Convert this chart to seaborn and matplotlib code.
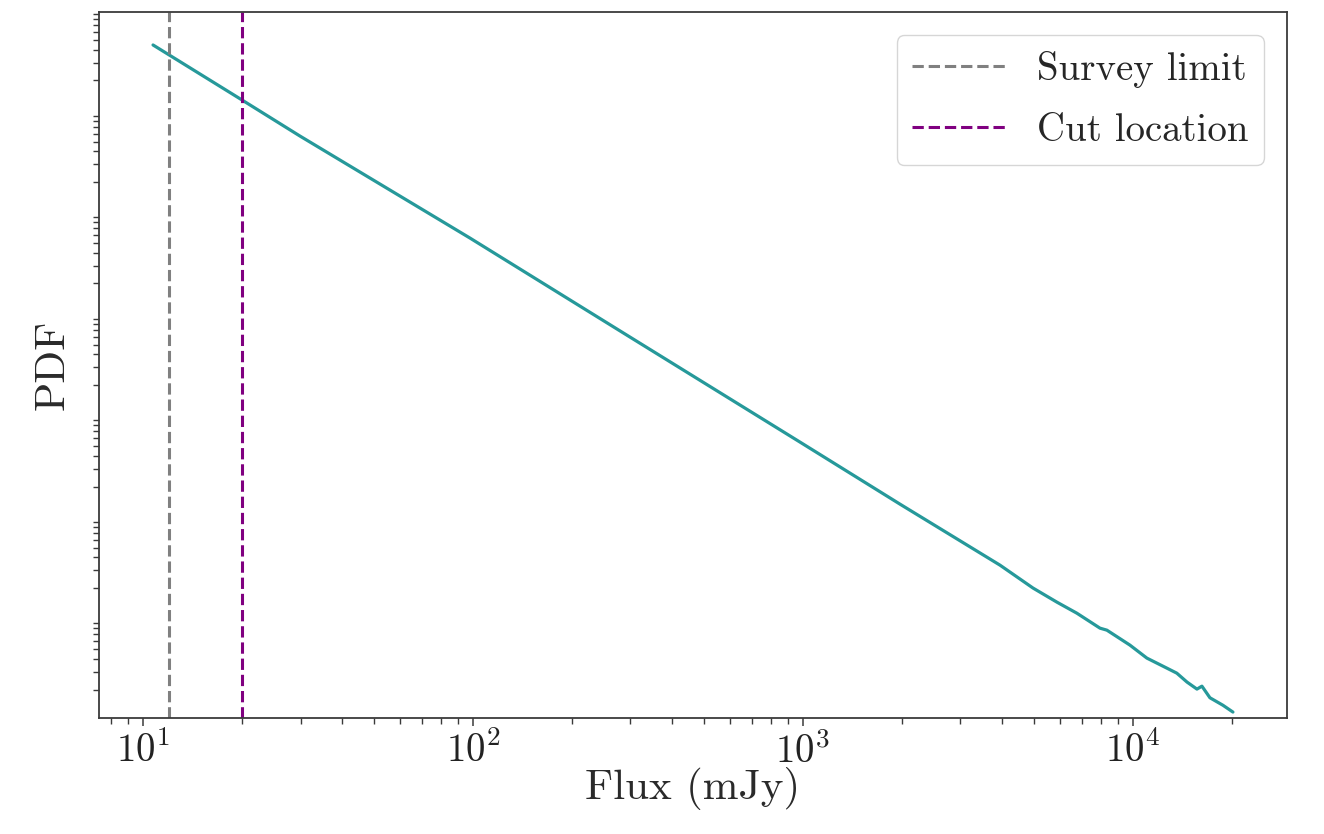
import matplotlib
matplotlib.use("Agg")
import matplotlib.pyplot as plt
import seaborn as sns
import pandas as pd

# Flux-density PDF of the simulated source population
flux_mjy = [10.72, 19.95, 29.9, 97.9, 299, 979, 1968, 3954, 4977, 5886,
            6761, 7943, 8337, 9790, 11020, 12670, 13580, 14580, 15630,
            16180, 17110, 18740, 20090]
pdf_vals = [4.47e-2, 1.283e-2, 5.66e-3, 5.60e-4, 5.93e-5, 5.48e-6, 1.34e-6,
            3.36e-7, 2.00e-7, 1.45e-7, 1.13e-7, 8.05e-8, 7.69e-8, 5.48e-8,
            4.08e-8, 3.25e-8, 2.90e-8, 2.37e-8, 2.02e-8, 2.16e-8, 1.66e-8,
            1.40e-8, 1.20e-8]

survey_limit = 12.0
cut_location = 20.0

sns.set_theme(style="ticks")
plt.rcParams.update({
    "font.family": "serif",
    "font.serif": ["cmr10", "DejaVu Serif"],
    "mathtext.fontset": "cm",
    "axes.formatter.use_mathtext": True,
    "axes.edgecolor": "#3a3a3a",
    "axes.linewidth": 1.3,
    "xtick.color": "#3a3a3a",
    "ytick.color": "#3a3a3a",
    "xtick.labelcolor": "#222222",
    "xtick.major.size": 6,
    "xtick.minor.size": 4,
    "ytick.minor.size": 4,
    "xtick.major.width": 1.1,
    "xtick.minor.width": 1.0,
    "ytick.minor.width": 1.0,
})

df = pd.DataFrame({"flux": flux_mjy, "pdf": pdf_vals})

fig, ax = plt.subplots(figsize=(13.24, 8.34), dpi=100)
fig.subplots_adjust(left=0.0748, right=0.972, top=0.9856, bottom=0.139)

sns.lineplot(data=df, x="flux", y="pdf", ax=ax, color="#26999a",
             linewidth=2.3, estimator=None, sort=False)
ax.axvline(survey_limit, color="grey", linestyle="--", linewidth=2.2,
           label="Survey limit")
ax.axvline(cut_location, color="purple", linestyle="--", linewidth=2.2,
           label="Cut location")

ax.set_xscale("log")
ax.set_yscale("log")
ax.set_ylim(10 ** -7.98, 10 ** -1.025)
ax.set_yticks([])

ax.set_xlabel("Flux (mJy)", fontsize=31, color="#2a2a2a", labelpad=-3)
ax.set_ylabel("PDF", fontsize=31, color="#2a2a2a", labelpad=12)
ax.tick_params(axis="x", which="major", labelsize=28, pad=4)

ax.legend(loc="upper right", fontsize=28, handlelength=2.4,
          labelspacing=0.65, borderaxespad=0.6, framealpha=0.8)

fig.savefig("out.png", dpi=100)
